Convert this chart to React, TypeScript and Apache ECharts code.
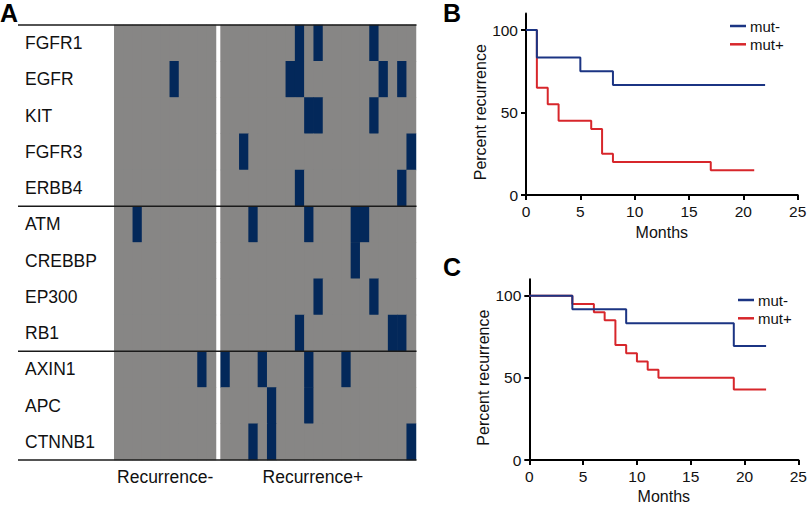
import React, { useEffect, useRef } from "react";
import * as echarts from "echarts";

// ---------- Data ----------
const genes = ["FGFR1", "EGFR", "KIT", "FGFR3", "ERBB4", "ATM", "CREBBP", "EP300", "RB1", "AXIN1", "APC", "CTNNB1"];
const recurrenceNegPatients = 11;
const recurrencePosPatients = 21;
// mutated patient columns (0-based) for each gene
const recurrenceNegMutations: number[][] = [[], [6], [], [], [], [2], [], [], [], [9], [], []];
const recurrencePosMutations: number[][] = [
  [8, 10, 16],
  [7, 8, 17, 19],
  [9, 10, 16],
  [2, 20],
  [8, 19],
  [3, 9, 14, 15],
  [14],
  [10, 16],
  [8, 18, 19],
  [0, 4, 9, 13],
  [5, 9],
  [3, 5, 20],
];
const geneGroupBreaks = [0, 5, 9, 12];

const percentTicks = [0, 50, 100];

const bMutNegMonths = [0, 1, 5, 8, 22];
const bMutNegPercent = [100, 83.3, 75, 66.7, 66.7];
const bMutPosMonths = [0, 1, 2, 3, 6, 7, 8, 17, 21];
const bMutPosPercent = [100, 65, 55, 45, 40, 25, 20, 15, 15];

const cMutNegMonths = [0, 4, 9, 19, 22];
const cMutNegPercent = [100, 91.7, 83.3, 69.4, 69.4];
const cMutPosMonths = [0, 4, 6, 7, 8, 9, 10, 11, 12, 19, 22];
const cMutPosPercent = [100, 95, 90, 85, 70, 65, 60, 55, 50, 42.9, 42.9];

// ---------- Styles ----------
const FONT = "'Liberation Sans', Arial, Helvetica, sans-serif";
const GREY = "#878685";
const NAVY = "#03285a";
const BLUE = "#1b3483";
const RED = "#d7262b";

const zip = (xs: number[], ys: number[]) => xs.map((x, i) => [x, ys[i]]);

const cells = (mut: number[][], count: number) => {
  const out: number[][] = [];
  genes.forEach((_, r) => {
    for (let c = 0; c < count; c++) out.push([c, r, mut[r].includes(c) ? 1 : 0]);
  });
  return out;
};

const HM_TOP = 25;
const HM_H = 435;

const heatX = (gridIndex: number, count: number, name: string, padding: number[]) => ({
  gridIndex,
  type: "category",
  data: Array.from({ length: count }, (_, i) => String(i + 1)),
  axisLine: { show: false },
  axisTick: { show: false },
  axisLabel: { show: false },
  splitLine: { show: false },
  name,
  nameLocation: "middle",
  nameGap: 8,
  nameTextStyle: { fontSize: 17.5, color: "#111", fontFamily: FONT, padding },
});

const kmX = (gridIndex: number, nameGap: number) => ({
  gridIndex,
  type: "value",
  min: 0,
  max: 25,
  interval: 5,
  axisLine: { show: true, onZero: false, lineStyle: { color: "#000", width: 2 } },
  axisTick: { show: true, length: 5, lineStyle: { color: "#000", width: 2 } },
  axisLabel: { fontSize: 15.5, color: "#111", margin: 8, fontFamily: FONT },
  splitLine: { show: false },
  name: "Months",
  nameLocation: "middle",
  nameGap,
  nameTextStyle: { fontSize: 16, color: "#111", fontFamily: FONT },
});

const kmY = (gridIndex: number) => ({
  gridIndex,
  type: "value",
  min: 0,
  max: 110,
  axisLine: { show: true, onZero: false, lineStyle: { color: "#000", width: 2 } },
  axisTick: { show: true, length: 5, customValues: percentTicks, lineStyle: { color: "#000", width: 2 } },
  axisLabel: { fontSize: 15.5, color: "#111", margin: 8, customValues: percentTicks, fontFamily: FONT },
  splitLine: { show: false },
  name: "Percent recurrence",
  nameLocation: "middle",
  nameGap: 35,
  nameTextStyle: { fontSize: 16, color: "#111", fontFamily: FONT, padding: [0, 16, 0, 0] },
});

const kmLine = (name: string, color: string, xi: number, data: number[][]) => ({
  type: "line",
  name,
  xAxisIndex: xi,
  yAxisIndex: xi,
  step: "end",
  data,
  symbol: "none",
  showSymbol: false,
  color,
  lineStyle: { color, width: 2 },
  itemStyle: { color },
  emphasis: { disabled: true },
});

const legendAt = (left: number, top: number) => ({
  left,
  top,
  orient: "vertical",
  padding: 0,
  itemGap: 2.3,
  itemWidth: 16,
  itemHeight: 2.5,
  icon: "rect",
  data: ["mut-", "mut+"],
  selectedMode: false,
  textStyle: { fontSize: 15, lineHeight: 16, color: "#111", fontFamily: FONT, padding: [0, 0, 0, -1] },
});

export default function App() {
  const ref = useRef<HTMLDivElement>(null);

  useEffect(() => {
    if (!ref.current) return;
    const chart = echarts.init(ref.current, undefined, { renderer: "svg" });
    const rowH = HM_H / genes.length;
    const titleStyle = { fontSize: 25, fontWeight: "bold", color: "#000", fontFamily: FONT };

    const option: any = {
      animation: false,
      backgroundColor: "#fff",
      textStyle: { fontFamily: FONT },
      title: [
        { text: "A", left: 0, top: 0.5, padding: 0, textStyle: titleStyle },
        { text: "B", left: 443, top: 0.5, padding: 0, textStyle: titleStyle },
        { text: "C", left: 443, top: 254.5, padding: 0, textStyle: titleStyle },
      ],
      grid: [
        { left: 114.3, top: HM_TOP, width: 101.7, height: HM_H, show: true, backgroundColor: GREY, borderWidth: 0 },
        { left: 220.7, top: HM_TOP, width: 195.3, height: HM_H, show: true, backgroundColor: GREY, borderWidth: 0 },
        { left: 526, top: 13.5, width: 271.7, height: 181.5 },
        { left: 529.3, top: 279.3, width: 272.4, height: 180.7 },
      ],
      xAxis: [
        heatX(0, recurrenceNegPatients, "Recurrence-", [0, 0, 0, 0]),
        heatX(1, recurrencePosPatients, "Recurrence+", [0, 11, 0, 0]),
        kmX(2, 29),
        kmX(3, 28),
      ],
      yAxis: [
        {
          gridIndex: 0,
          type: "category",
          data: genes,
          inverse: true,
          axisLine: { show: false },
          axisTick: { show: false },
          splitLine: { show: false },
          axisLabel: { align: "left", margin: 89.3, fontSize: 17.5, color: "#111", fontFamily: FONT, padding: [12, 0, 0, 0] },
        },
        {
          gridIndex: 1,
          type: "category",
          data: genes,
          inverse: true,
          axisLine: { show: false },
          axisTick: { show: false },
          splitLine: { show: false },
          axisLabel: { show: false },
        },
        kmY(2),
        kmY(3),
      ],
      visualMap: [
        {
          type: "piecewise",
          show: false,
          seriesIndex: [0, 1],
          dimension: 2,
          pieces: [
            { value: 0, color: GREY },
            { value: 1, color: NAVY },
          ],
        },
      ],
      legend: [legendAt(730, 18), legendAt(738, 292)],
      series: [
        { type: "heatmap", xAxisIndex: 0, yAxisIndex: 0, data: cells(recurrenceNegMutations, recurrenceNegPatients), emphasis: { disabled: true } },
        { type: "heatmap", xAxisIndex: 1, yAxisIndex: 1, data: cells(recurrencePosMutations, recurrencePosPatients), emphasis: { disabled: true } },
        kmLine("mut+", RED, 2, zip(bMutPosMonths, bMutPosPercent)),
        kmLine("mut-", BLUE, 2, zip(bMutNegMonths, bMutNegPercent)),
        kmLine("mut+", RED, 3, zip(cMutPosMonths, cMutPosPercent)),
        kmLine("mut-", BLUE, 3, zip(cMutNegMonths, cMutNegPercent)),
      ],
      graphic: geneGroupBreaks.map((i) => ({
        type: "line",
        z: 100,
        shape: { x1: 18, y1: HM_TOP + i * rowH, x2: 416.5, y2: HM_TOP + i * rowH },
        style: { stroke: "#1a1a1a", lineWidth: 1.5 },
      })),
    };

    chart.setOption(option);
    return () => chart.dispose();
  }, []);

  return (
    <div
      ref={ref}
      style={{ position: "fixed", left: 0, top: 0, width: 810, height: 506, background: "#fff" }}
    />
  );
}
